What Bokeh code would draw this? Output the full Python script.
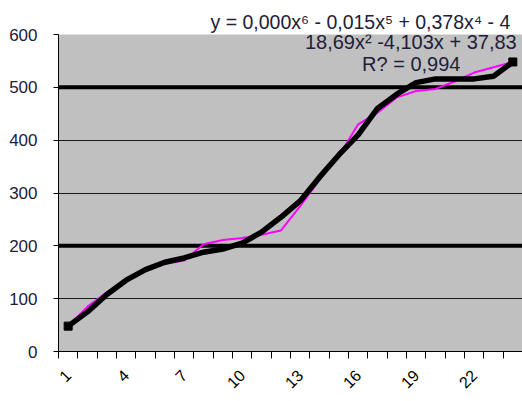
import math
from bokeh.plotting import figure
from bokeh.models import Range1d, FixedTicker, Span, Label, Title
from bokeh.embed import file_html
from bokeh.resources import INLINE

# ---- data ----
categories = list(range(1, 25))
tick_labels = {1: "1", 4: "4", 7: "7", 10: "10", 13: "13", 16: "16", 19: "19", 22: "22"}
series_pink = [48, 85, 112, 135, 153, 166, 172, 203, 211, 215, 221, 229,
               275, 325, 370, 430, 452, 481, 493, 497, 511, 528, 538, 548]
trend_black = [48, 75, 108, 135, 155, 169, 177, 188, 194, 205, 226, 254,
               285, 330, 372, 410, 460, 487, 509, 516, 516, 516, 521, 548]
y_ticks = [0, 100, 200, 300, 400, 500, 600]
thin_grid = [100, 300, 400, 600]
thick_lines = [200, 500]
eq_line1 = "y = 0,000x\u2076 - 0,015x\u2075 + 0,378x\u2074 - 4"
eq_line2 = "18,69x\u00b2 -4,103x + 37,83"
eq_line3 = "R? = 0,994"

FONT = "Liberation Sans"
TXT = "#20203a"

p = figure(width=522, height=401, output_backend="svg", toolbar_location=None,
           x_range=Range1d(0.5, 24.5), y_range=Range1d(0, 600),
           min_border_left=58, min_border_right=0, min_border_top=0,
           min_border_bottom=50)
p.background_fill_color = "#c0c0c0"
p.border_fill_color = "white"
p.outline_line_color = None

# first line of the trendline equation sits above the plot area
p.add_layout(Title(text=eq_line1, text_font=FONT, text_font_size="19.5px",
                   text_font_style="normal", text_color=TXT, align="left",
                   offset=152, standoff=3, vertical_align="bottom"), "above")
p.min_border_top = 34

# grid
p.xgrid.visible = False
p.ygrid.ticker = FixedTicker(ticks=thin_grid)
p.ygrid.grid_line_color = "#1a1a1a"
p.ygrid.grid_line_width = 1.2
for v in thick_lines:
    p.add_layout(Span(location=v, dimension="width", line_color="black",
                      line_width=4, level="underlay"))

# y axis
p.yaxis.ticker = FixedTicker(ticks=y_ticks)
p.yaxis.major_tick_in = 0
p.yaxis.major_tick_out = 5
p.yaxis.minor_tick_line_color = None
p.yaxis.axis_line_color = "black"
p.yaxis.major_tick_line_color = "black"
p.yaxis.major_label_text_font = FONT
p.yaxis.major_label_text_font_size = "17px"
p.yaxis.major_label_text_color = TXT
p.yaxis.major_label_standoff = 16

# x axis
p.xaxis.ticker = FixedTicker(ticks=categories,
                             minor_ticks=[c - 0.5 for c in categories] + [categories[-1] + 0.5])
p.xaxis.major_label_overrides = {c: tick_labels.get(c, "") for c in categories}
p.xaxis.major_tick_in = 0
p.xaxis.major_tick_out = 0
p.xaxis.minor_tick_in = 0
p.xaxis.minor_tick_out = 7
p.xaxis.minor_tick_line_color = "black"
p.xaxis.axis_line_color = "black"
p.xaxis.major_label_orientation = math.pi / 4
p.xaxis.major_label_text_font = FONT
p.xaxis.major_label_text_font_size = "16px"
p.xaxis.major_label_text_color = "black"
p.xaxis.major_label_standoff = 14

# series
p.line(categories, series_pink, line_color="#ff00ff", line_width=2)
p.line(categories, trend_black, line_color="black", line_width=5.5)
p.scatter([categories[0], categories[-1]], [trend_black[0], trend_black[-1]],
          marker="square", size=8, fill_color="black", line_color="black")

# rest of the trendline equation
p.add_layout(Label(x=24.2, y=586, text=eq_line2, text_font=FONT, text_font_size="20px",
                   text_color=TXT, text_baseline="middle", text_align="right"))
p.add_layout(Label(x=16.2, y=545, text=eq_line3, text_font=FONT, text_font_size="20px",
                   text_color=TXT, text_baseline="middle", text_align="left"))

open("out.html", "w").write(file_html(p, INLINE))
